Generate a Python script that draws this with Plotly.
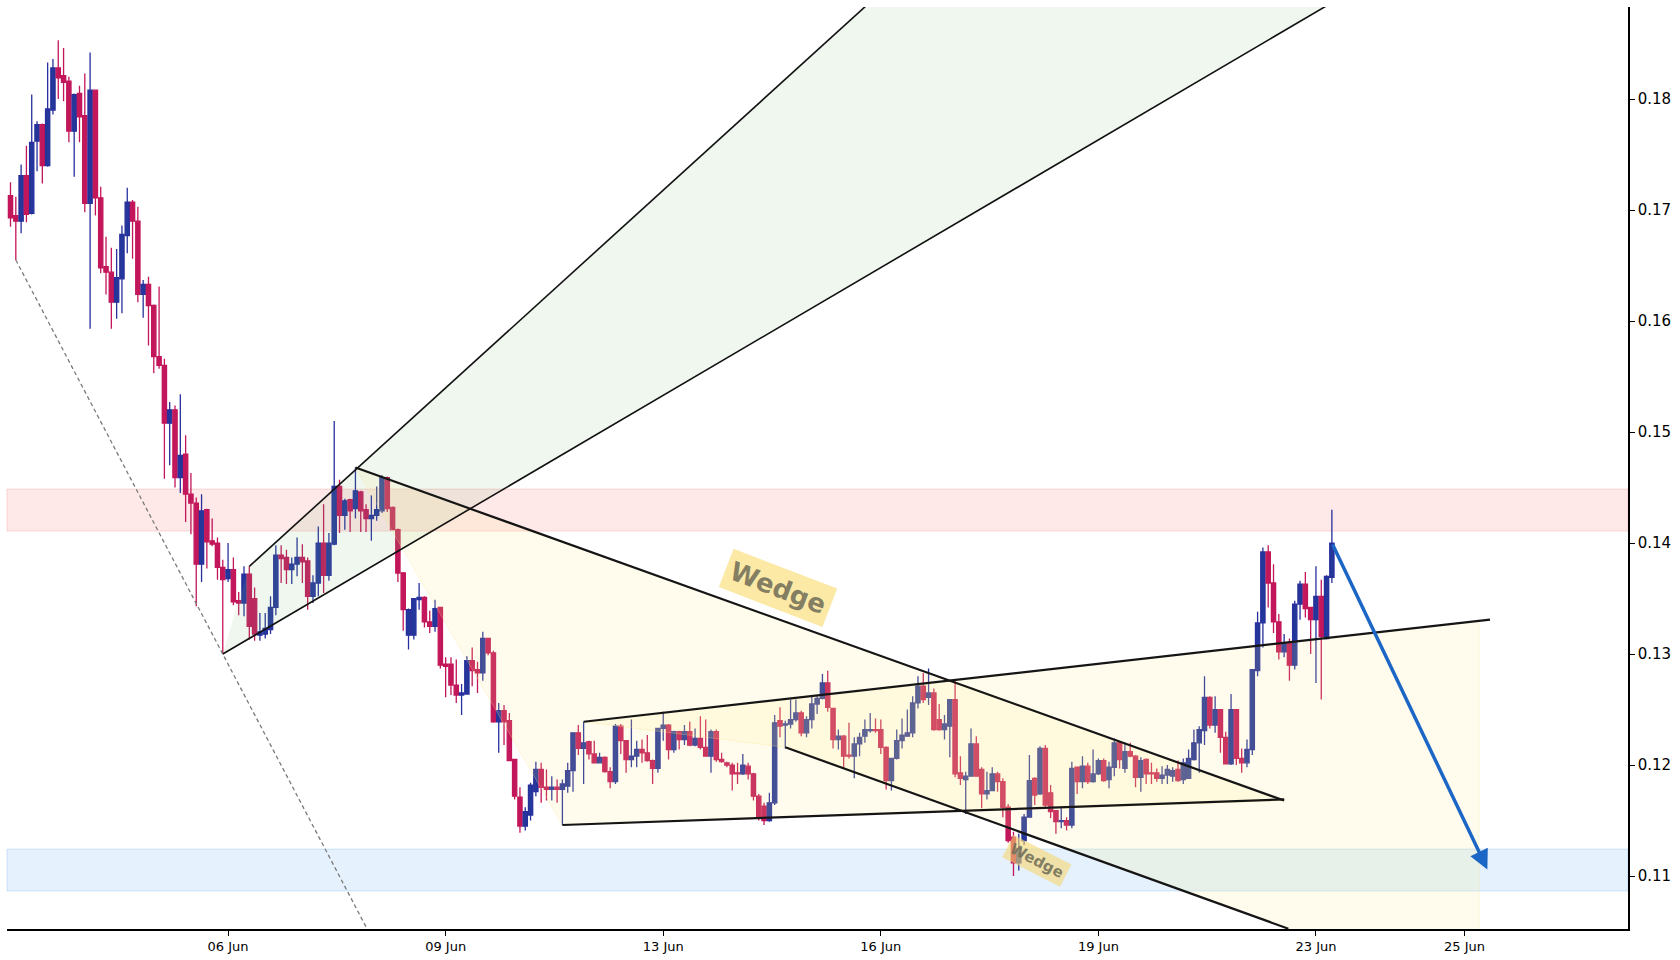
import plotly.graph_objects as go

# ---------------- data (2h candles, indexed by bar number) ----------------
opens = [0.1713,0.1695,0.1690,0.1731,0.1697,0.1762,0.1777,0.1740,0.1790,0.1828,
         0.1821,0.1816,0.1771,0.1805,0.1785,0.1706,0.1808,0.1711,0.1649,0.1644,
         0.1617,0.1638,0.1677,0.1707,0.1690,0.1624,0.1633,0.1614,0.1568,0.1560,
         0.1508,0.1520,0.1459,0.1480,0.1444,0.1436,0.1381,0.1430,0.1402,0.1400,
         0.1378,0.1368,0.1376,0.1348,0.1346,0.1372,0.1350,0.1317,0.1318,0.1322,
         0.1342,0.1389,0.1387,0.1376,0.1381,0.1387,0.1384,0.1352,0.1364,0.1400,
         0.1371,0.1399,0.1451,0.1425,0.1439,0.1431,0.1446,0.1430,0.1422,0.1425,
         0.1429,0.1459,0.1432,0.1412,0.1373,0.1317,0.1317,0.1349,0.1351,0.1329,
         0.1325,0.1342,0.1291,0.1291,0.1272,0.1263,0.1264,0.1294,0.1286,0.1283,
         0.1314,0.1301,0.1239,0.1249,0.1240,0.1205,0.1171,0.1145,0.1155,0.1176,
         0.1196,0.1180,0.1178,0.1180,0.1178,0.1181,0.1195,0.1229,0.1215,0.1221,
         0.1210,0.1202,0.1207,0.1194,0.1185,0.1235,0.1222,0.1205,0.1208,0.1214,
         0.1211,0.1204,0.1197,0.1233,0.1236,0.1214,0.1230,0.1223,0.1230,0.1218,
         0.1224,0.1216,0.1208,0.1230,0.1205,0.1202,0.1200,0.1193,0.1192,0.1199,
         0.1192,0.1172,0.1163,0.1150,0.1166,0.1240,0.1236,0.1237,0.1241,0.1247,
         0.1229,0.1241,0.1255,0.1260,0.1274,0.1251,0.1223,0.1226,0.1209,0.1208,
         0.1219,0.1226,0.1231,0.1232,0.1232,0.1216,0.1186,0.1206,0.1222,0.1226,
         0.1229,0.1256,0.1271,0.1261,0.1265,0.1241,0.1232,0.1235,0.1259,0.1193,
         0.1187,0.1190,0.1219,0.1196,0.1174,0.1177,0.1192,0.1185,0.1162,0.1135,
         0.1112,0.1132,0.1153,0.1188,0.1174,0.1215,0.1175,0.1159,0.1149,0.1150,
         0.1146,0.1198,0.1185,0.1199,0.1185,0.1192,0.1204,0.1187,0.1198,0.1220,
         0.1197,0.1212,0.1208,0.1189,0.1205,0.1193,0.1193,0.1188,0.1191,0.1190,
         0.1196,0.1187,0.1188,0.1205,0.1220,0.1231,0.1261,0.1236,0.1250,0.1225,
         0.1201,0.1250,0.1206,0.1202,0.1214,0.1285,0.1328,0.1392,0.1364,0.1329,
         0.1302,0.1310,0.1290,0.1345,0.1363,0.1342,0.1331,0.1352,0.1314,0.1369]
highs = [0.1725,0.1712,0.1741,0.1758,0.1804,0.1780,0.1778,0.1833,0.1836,0.1853,
         0.1846,0.1820,0.1805,0.1812,0.1823,0.1842,0.1808,0.1721,0.1676,0.1666,
         0.1665,0.1686,0.1720,0.1709,0.1703,0.1637,0.1640,0.1615,0.1631,0.1566,
         0.1527,0.1524,0.1534,0.1497,0.1463,0.1441,0.1444,0.1431,0.1422,0.1405,
         0.1385,0.1400,0.1387,0.1356,0.1379,0.1379,0.1360,0.1337,0.1337,0.1352,
         0.1398,0.1398,0.1394,0.1387,0.1405,0.1399,0.1387,0.1371,0.1415,0.1435,
         0.1409,0.1510,0.1457,0.1440,0.1440,0.1468,0.1447,0.1435,0.1443,0.1451,
         0.1461,0.1460,0.1433,0.1413,0.1374,0.1341,0.1350,0.1364,0.1352,0.1339,
         0.1349,0.1342,0.1297,0.1297,0.1295,0.1273,0.1298,0.1306,0.1293,0.1320,
         0.1314,0.1303,0.1256,0.1254,0.1247,0.1205,0.1180,0.1162,0.1184,0.1203,
         0.1202,0.1196,0.1190,0.1187,0.1187,0.1202,0.1229,0.1236,0.1239,0.1222,
         0.1222,0.1211,0.1208,0.1198,0.1237,0.1237,0.1222,0.1241,0.1222,0.1223,
         0.1227,0.1205,0.1233,0.1248,0.1237,0.1231,0.1231,0.1236,0.1239,0.1233,
         0.1244,0.1241,0.1232,0.1232,0.1211,0.1203,0.1202,0.1202,0.1210,0.1202,
         0.1193,0.1174,0.1166,0.1175,0.1245,0.1252,0.1240,0.1259,0.1259,0.1249,
         0.1244,0.1262,0.1263,0.1282,0.1285,0.1251,0.1232,0.1227,0.1238,0.1225,
         0.1229,0.1241,0.1247,0.1242,0.1241,0.1217,0.1206,0.1232,0.1242,0.1250,
         0.1262,0.1280,0.1283,0.1287,0.1269,0.1255,0.1245,0.1259,0.1277,0.1208,
         0.1194,0.1233,0.1226,0.1198,0.1194,0.1198,0.1194,0.1188,0.1165,0.1140,
         0.1138,0.1156,0.1209,0.1189,0.1217,0.1218,0.1182,0.1159,0.1162,0.1153,
         0.1203,0.1198,0.1208,0.1202,0.1214,0.1206,0.1206,0.1203,0.1224,0.1221,
         0.1220,0.1220,0.1209,0.1207,0.1206,0.1202,0.1197,0.1199,0.1200,0.1198,
         0.1204,0.1206,0.1214,0.1232,0.1235,0.1280,0.1262,0.1262,0.1250,0.1230,
         0.1264,0.1250,0.1215,0.1223,0.1286,0.1338,0.1396,0.1398,0.1381,0.1336,
         0.1318,0.1314,0.1348,0.1366,0.1374,0.1342,0.1379,0.1367,0.1371,0.1430]
lows = [0.1685,0.1655,0.1679,0.1689,0.1696,0.1735,0.1724,0.1739,0.1786,0.1800,
        0.1798,0.1761,0.1730,0.1761,0.1698,0.1593,0.1695,0.1643,0.1624,0.1593,
        0.1602,0.1607,0.1661,0.1656,0.1617,0.1603,0.1578,0.1553,0.1557,0.1458,
        0.1470,0.1450,0.1445,0.1419,0.1408,0.1343,0.1365,0.1377,0.1397,0.1367,
        0.1300,0.1365,0.1344,0.1335,0.1334,0.1313,0.1312,0.1312,0.1314,0.1318,
        0.1335,0.1364,0.1363,0.1363,0.1370,0.1364,0.1340,0.1346,0.1352,0.1355,
        0.1366,0.1398,0.1409,0.1412,0.1410,0.1422,0.1410,0.1410,0.1402,0.1420,
        0.1427,0.1428,0.1412,0.1365,0.1321,0.1304,0.1313,0.1340,0.1324,0.1319,
        0.1320,0.1287,0.1261,0.1263,0.1256,0.1245,0.1264,0.1271,0.1265,0.1276,
        0.1299,0.1238,0.1211,0.1218,0.1204,0.1169,0.1139,0.1141,0.1150,0.1172,
        0.1166,0.1168,0.1168,0.1166,0.1146,0.1175,0.1176,0.1209,0.1183,0.1205,
        0.1202,0.1202,0.1193,0.1179,0.1183,0.1210,0.1193,0.1198,0.1198,0.1202,
        0.1203,0.1183,0.1193,0.1222,0.1205,0.1211,0.1214,0.1218,0.1217,0.1217,
        0.1214,0.1208,0.1193,0.1203,0.1202,0.1198,0.1177,0.1183,0.1191,0.1187,
        0.1168,0.1150,0.1146,0.1149,0.1164,0.1225,0.1215,0.1233,0.1239,0.1226,
        0.1225,0.1233,0.1246,0.1259,0.1248,0.1215,0.1214,0.1197,0.1206,0.1188,
        0.1208,0.1220,0.1229,0.1229,0.1210,0.1178,0.1177,0.1205,0.1215,0.1226,
        0.1225,0.1251,0.1256,0.1254,0.1231,0.1231,0.1223,0.1207,0.1189,0.1182,
        0.1156,0.1190,0.1190,0.1161,0.1169,0.1177,0.1176,0.1153,0.1130,0.1100,
        0.1105,0.1128,0.1153,0.1164,0.1173,0.1162,0.1152,0.1138,0.1143,0.1141,
        0.1143,0.1174,0.1179,0.1183,0.1184,0.1191,0.1185,0.1179,0.1190,0.1197,
        0.1193,0.1207,0.1180,0.1176,0.1183,0.1183,0.1185,0.1183,0.1183,0.1185,
        0.1185,0.1183,0.1188,0.1204,0.1193,0.1218,0.1233,0.1229,0.1211,0.1201,
        0.1200,0.1200,0.1193,0.1198,0.1209,0.1280,0.1306,0.1342,0.1319,0.1295,
        0.1297,0.1276,0.1286,0.1331,0.1333,0.1300,0.1274,0.1259,0.1313,0.1364]
closes = [0.1693,0.1690,0.1731,0.1696,0.1761,0.1777,0.1740,0.1791,0.1828,0.1819,
          0.1815,0.1771,0.1804,0.1784,0.1706,0.1808,0.1711,0.1648,0.1644,0.1617,
          0.1639,0.1678,0.1707,0.1690,0.1624,0.1633,0.1614,0.1568,0.1560,0.1508,
          0.1520,0.1459,0.1479,0.1444,0.1436,0.1381,0.1429,0.1401,0.1399,0.1378,
          0.1367,0.1376,0.1347,0.1346,0.1372,0.1325,0.1318,0.1320,0.1323,0.1342,
          0.1389,0.1386,0.1376,0.1381,0.1387,0.1383,0.1352,0.1364,0.1400,0.1371,
          0.1400,0.1451,0.1425,0.1438,0.1429,0.1447,0.1429,0.1422,0.1425,0.1430,
          0.1459,0.1431,0.1412,0.1373,0.1340,0.1340,0.1350,0.1351,0.1329,0.1325,
          0.1341,0.1290,0.1289,0.1272,0.1263,0.1265,0.1294,0.1285,0.1283,0.1314,
          0.1301,0.1239,0.1249,0.1239,0.1204,0.1172,0.1145,0.1158,0.1182,0.1196,
          0.1180,0.1178,0.1180,0.1178,0.1183,0.1195,0.1229,0.1215,0.1220,0.1210,
          0.1202,0.1207,0.1194,0.1185,0.1235,0.1222,0.1205,0.1208,0.1214,0.1211,
          0.1204,0.1197,0.1233,0.1236,0.1214,0.1230,0.1223,0.1230,0.1218,0.1224,
          0.1216,0.1208,0.1230,0.1205,0.1203,0.1200,0.1192,0.1192,0.1200,0.1192,
          0.1172,0.1152,0.1150,0.1166,0.1238,0.1235,0.1237,0.1241,0.1247,0.1229,
          0.1241,0.1255,0.1260,0.1274,0.1252,0.1223,0.1226,0.1208,0.1208,0.1219,
          0.1225,0.1232,0.1232,0.1231,0.1216,0.1186,0.1206,0.1222,0.1227,0.1229,
          0.1256,0.1271,0.1259,0.1265,0.1232,0.1232,0.1237,0.1259,0.1192,0.1188,
          0.1190,0.1219,0.1190,0.1174,0.1177,0.1192,0.1185,0.1162,0.1132,0.1112,
          0.1125,0.1153,0.1186,0.1173,0.1215,0.1164,0.1158,0.1149,0.1150,0.1146,
          0.1197,0.1185,0.1199,0.1185,0.1192,0.1204,0.1186,0.1198,0.1220,0.1205,
          0.1212,0.1208,0.1189,0.1204,0.1192,0.1192,0.1188,0.1191,0.1196,0.1195,
          0.1186,0.1202,0.1206,0.1220,0.1232,0.1261,0.1236,0.1250,0.1225,0.1201,
          0.1250,0.1206,0.1202,0.1214,0.1286,0.1328,0.1392,0.1364,0.1329,0.1302,
          0.1310,0.1290,0.1345,0.1363,0.1341,0.1331,0.1352,0.1316,0.1370,0.1400]
bars = list(range(len(opens)))

tick_bars = [41, 82, 123, 164, 205, 246, 274]
tick_labels = ["06 Jun", "09 Jun", "13 Jun", "16 Jun", "19 Jun", "23 Jun", "25 Jun"]
price_ticks = [0.11, 0.12, 0.13, 0.14, 0.15, 0.16, 0.17, 0.18]

# zones (price bands)
resistance_zone = [0.14108, 0.14486]
support_zone = [0.10865, 0.11243]

# drawing anchors (bar, price)
trend_dashed = [(1, 0.1655), (40, 0.1300)]
fan_apex = (40, 0.1300)
fan_upper = [(45, 0.1379), (161, 0.1883)]
fan_lower = [(40, 0.1300), (247.3, 0.1882)]
wedge1_top = [(65, 0.1468), (240, 0.1168)]
wedge1_bottom = [(104, 0.1146), (240, 0.1169)]
wedge2_top = [(108, 0.1239), (278.8, 0.1331)]
wedge2_bottom = [(146, 0.1216), (240.8, 0.10526)]
wedge2_fill_end = 276.7
arrow_from = (249, 0.1400)
arrow_to = (278.3, 0.1106)
label_big = (144.7, 0.13595)
label_small = (193.5, 0.1114)

XR = [-0.66, 304.8]
YR = [0.10523, 0.18829]


def at(line, xq):
    (x0, y0), (x1, y1) = line
    return y0 + (y1 - y0) * (xq - x0) / (x1 - x0)


fig = go.Figure()

# fills (below candles)
fan_top_x = 165
fig.add_trace(go.Scatter(
    x=[fan_apex[0], fan_upper[0][0], fan_top_x, 252, fan_apex[0]],
    y=[fan_apex[1], fan_upper[0][1], at(fan_upper, fan_top_x), at(fan_lower, 252), fan_apex[1]],
    fill="toself", fillcolor="rgba(120,190,120,0.12)", mode="lines",
    line=dict(width=0), hoverinfo="skip"))

yellow_fill = "rgba(252,235,130,0.14)"
yellow_edge = "rgba(250,230,140,0.3)"
fig.add_trace(go.Scatter(
    x=[wedge1_top[0][0], wedge1_top[1][0], wedge1_bottom[0][0], wedge1_top[0][0]],
    y=[wedge1_top[0][1], wedge1_top[1][1], wedge1_bottom[0][1], wedge1_top[0][1]],
    fill="toself", fillcolor=yellow_fill, mode="lines",
    line=dict(width=1, color=yellow_edge), hoverinfo="skip"))

fig.add_trace(go.Scatter(
    x=[wedge2_top[0][0], wedge2_fill_end, wedge2_fill_end, wedge2_bottom[0][0], wedge2_top[0][0]],
    y=[wedge2_top[0][1], at(wedge2_top, wedge2_fill_end), at(wedge2_bottom, wedge2_fill_end),
       wedge2_bottom[0][1], wedge2_top[0][1]],
    fill="toself", fillcolor=yellow_fill, mode="lines",
    line=dict(width=1, color=yellow_edge), hoverinfo="skip"))

# candles
fig.add_trace(go.Candlestick(
    x=bars, open=opens, high=highs, low=lows, close=closes,
    increasing=dict(line=dict(color="#27309c", width=1.3), fillcolor="#24379a"),
    decreasing=dict(line=dict(color="#c3165a", width=1.3), fillcolor="#c2185b"),
    whiskerwidth=0, hoverinfo="skip"))

# dashed trend line
dash_end = 70
fig.add_trace(go.Scatter(
    x=[trend_dashed[0][0], dash_end], y=[trend_dashed[0][1], at(trend_dashed, dash_end)],
    mode="lines", line=dict(color="#7a7a7a", width=1.3, dash="4px,3px"), hoverinfo="skip"))

# fan lines
fig.add_trace(go.Scatter(
    x=[fan_upper[0][0], fan_top_x], y=[fan_upper[0][1], at(fan_upper, fan_top_x)],
    mode="lines", line=dict(color="#111111", width=1.6), hoverinfo="skip"))
fig.add_trace(go.Scatter(
    x=[fan_lower[0][0], 252], y=[fan_lower[0][1], at(fan_lower, 252)],
    mode="lines", line=dict(color="#111111", width=1.6), hoverinfo="skip"))

# wedge lines
for ln in (wedge1_top, wedge1_bottom, wedge2_top, wedge2_bottom):
    fig.add_trace(go.Scatter(
        x=[ln[0][0], ln[1][0]], y=[ln[0][1], ln[1][1]], mode="lines",
        line=dict(color="#151515", width=2.2), hoverinfo="skip"))

# zones
fig.add_shape(type="rect", xref="paper", x0=0, x1=1, yref="y",
              y0=resistance_zone[0], y1=resistance_zone[1],
              fillcolor="rgba(250,130,130,0.18)", line=dict(color="rgba(240,140,140,0.3)", width=1),
              layer="below")
fig.add_shape(type="rect", xref="paper", x0=0, x1=1, yref="y",
              y0=support_zone[0], y1=support_zone[1],
              fillcolor="rgba(100,170,240,0.17)", line=dict(color="rgba(100,170,240,0.25)", width=1),
              layer="below")

# arrow
fig.add_annotation(x=arrow_to[0], y=arrow_to[1], ax=arrow_from[0], ay=arrow_from[1],
                   xref="x", yref="y", axref="x", ayref="y", text="", showarrow=True,
                   arrowhead=2, arrowsize=1.1, arrowwidth=3.5, arrowcolor="#1c66c6")

# labels
fig.add_annotation(x=label_big[0], y=label_big[1], xref="x", yref="y", text="Wedge",
                   showarrow=False, textangle=21,
                   font=dict(family="DejaVu Sans", size=26, color="rgba(115,112,90,0.9)", weight="bold"),
                   bgcolor="rgba(250,225,130,0.72)", borderpad=5)
fig.add_annotation(x=label_small[0], y=label_small[1], xref="x", yref="y", text="Wedge",
                   showarrow=False, textangle=27,
                   font=dict(family="DejaVu Sans", size=15, color="rgba(115,112,90,0.9)", weight="bold"),
                   bgcolor="rgba(245,215,110,0.6)", borderpad=3)

fig.update_layout(
    width=1680, height=960, autosize=False,
    margin=dict(l=7, r=52, t=7, b=31),
    paper_bgcolor="white", plot_bgcolor="white",
    showlegend=False, boxgap=0.2, boxgroupgap=0,
    font=dict(family="DejaVu Sans", color="black"),
    xaxis=dict(type="linear", range=XR, rangeslider=dict(visible=False),
               showgrid=False, zeroline=False, showline=True, linecolor="black", linewidth=1.5,
               ticks="outside", ticklen=5, tickwidth=1.2, tickcolor="black",
               tickvals=tick_bars, ticktext=tick_labels, tickfont=dict(size=13)),
    yaxis=dict(range=YR, side="right", showgrid=False, zeroline=False, showline=True,
               linecolor="black", linewidth=1.5, ticks="outside", ticklen=5, tickwidth=1.2,
               tickcolor="black", tickvals=price_ticks,
               ticktext=["%.2f" % v for v in price_ticks], tickfont=dict(size=15)),
)

fig.write_html("out.html", config={"displayModeBar": False},
               post_script="document.body.style.margin='0px';document.body.style.overflow='hidden';")
